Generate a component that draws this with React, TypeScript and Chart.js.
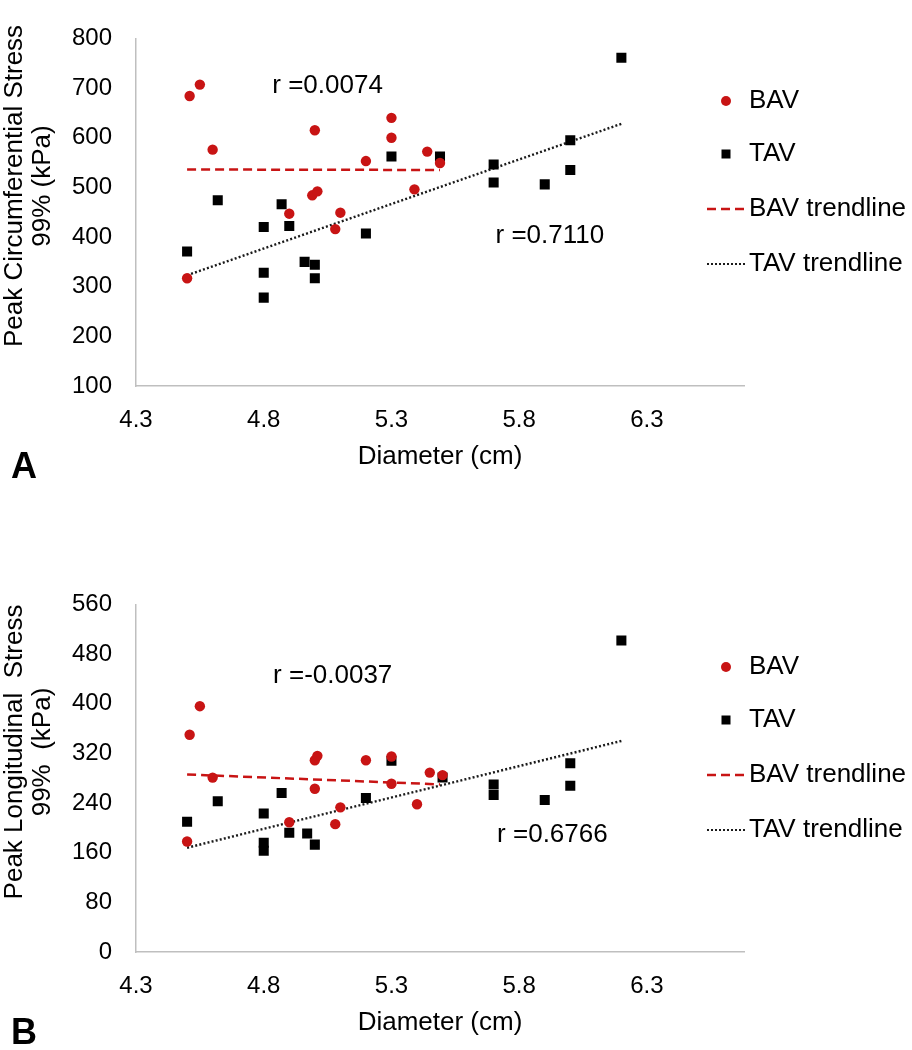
import React, { useEffect, useRef } from 'react';
import { Chart, registerables } from 'chart.js';

Chart.register(...registerables);

const FONT = "'Liberation Sans', Arial, Helvetica, sans-serif";
const RED = '#C81414';
const DOT = '#1a1a1a';
const AXIS_GRAY = '#BFBFBF';

// Shared x axis
const xTickValues = [4.3, 4.8, 5.3, 5.8, 6.3];
const xMin = 4.3;
const xMax = 6.68;

// ---------- Panel A : circumferential stress ----------
const yTicksA = [100, 200, 300, 400, 500, 600, 700, 800];
const bavDiameterA = [4.5, 4.51, 4.55, 4.6, 4.9, 4.99, 5.0, 5.01, 5.08, 5.1, 5.2, 5.3, 5.3, 5.39, 5.44, 5.49];
const bavCircStress = [317, 684, 707, 576, 447, 484, 615, 492, 416, 449, 553, 640, 600, 496, 572, 549];
const tavDiameterA = [4.5, 4.62, 4.8, 4.8, 4.8, 4.87, 4.9, 4.96, 5.0, 5.0, 5.2, 5.3, 5.49, 5.7, 5.7, 5.9, 6.0, 6.0, 6.2];
const tavCircStress = [371, 474, 420, 328, 278, 466, 422, 350, 344, 317, 407, 562, 562, 546, 510, 506, 595, 535, 761];
const bavTrendXA = [4.5, 5.49];
const bavTrendYA = [536, 535];
const tavTrendXA = [4.5, 6.2];
const tavTrendYA = [323, 628];
const noteTextA = ['r =0.0074', 'r =0.7110'];
const noteXA = [5.05, 5.92];
const noteYA = [705, 402];

// ---------- Panel B : longitudinal stress ----------
const yTicksB = [0, 80, 160, 240, 320, 400, 480, 560];
const bavDiameterB = [4.5, 4.51, 4.55, 4.6, 4.9, 5.0, 5.0, 5.01, 5.08, 5.1, 5.2, 5.3, 5.3, 5.4, 5.45, 5.5];
const bavLongStress = [178, 350, 396, 281, 209, 263, 309, 316, 206, 233, 309, 315, 271, 238, 289, 285];
const tavDiameterB = [4.5, 4.62, 4.8, 4.8, 4.8, 4.87, 4.9, 4.97, 5.0, 5.2, 5.3, 5.5, 5.7, 5.7, 5.9, 6.0, 6.0, 6.2];
const tavLongStress = [210, 243, 223, 176, 163, 256, 192, 191, 173, 248, 308, 281, 270, 253, 245, 304, 268, 502];
const bavTrendXB = [4.5, 5.49];
const bavTrendYB = [286, 270];
const tavTrendXB = [4.5, 6.2];
const tavTrendYB = [168, 340];
const noteTextB = ['r =-0.0037', 'r =0.6766'];
const noteXB = [5.07, 5.93];
const noteYB = [445, 188];

const legendLabels = ['BAV', 'TAV', 'BAV trendline', 'TAV trendline'];

type PanelCfg = {
  letter: string;
  yTitle: string[];
  yTicks: number[];
  bavX: number[];
  bavY: number[];
  tavX: number[];
  tavY: number[];
  bavTX: number[];
  bavTY: number[];
  tavTX: number[];
  tavTY: number[];
  noteText: string[];
  noteX: number[];
  noteY: number[];
};

const panelA: PanelCfg = {
  letter: 'A',
  yTitle: ['Peak Circumferential Stress', '99% (kPa)'],
  yTicks: yTicksA,
  bavX: bavDiameterA, bavY: bavCircStress,
  tavX: tavDiameterA, tavY: tavCircStress,
  bavTX: bavTrendXA, bavTY: bavTrendYA,
  tavTX: tavTrendXA, tavTY: tavTrendYA,
  noteText: noteTextA, noteX: noteXA, noteY: noteYA,
};

const panelB: PanelCfg = {
  letter: 'B',
  yTitle: ['Peak Longitudinal  Stress', '99%  (kPa)'],
  yTicks: yTicksB,
  bavX: bavDiameterB, bavY: bavLongStress,
  tavX: tavDiameterB, tavY: tavLongStress,
  bavTX: bavTrendXB, bavTY: bavTrendYB,
  tavTX: tavTrendXB, tavTY: tavTrendYB,
  noteText: noteTextB, noteX: noteXB, noteY: noteYB,
};

const zip = (xs: number[], ys: number[]) => xs.map((x, i) => ({ x, y: ys[i] }));

const CANVAS_W = 912;
const CANVAS_H = 480;

function makeOverlay(cfg: PanelCfg) {
  return {
    id: 'panelOverlay',
    afterDraw(chart: any) {
      const { ctx } = chart;
      const xs = chart.scales.x;
      const ys = chart.scales.y;
      ctx.save();
      // y axis title (two lines, rotated)
      ctx.fillStyle = '#000';
      ctx.font = `26px ${FONT}`;
      ctx.textAlign = 'center';
      ctx.textBaseline = 'middle';
      cfg.yTitle.forEach((line, i) => {
        ctx.save();
        ctx.translate(15 + i * 28, 186);
        ctx.rotate(-Math.PI / 2);
        ctx.fillText(line, 0, 0);
        ctx.restore();
      });

      // correlation notes
      cfg.noteText.forEach((t, i) => {
        ctx.fillText(t, xs.getPixelForValue(cfg.noteX[i]), ys.getPixelForValue(cfg.noteY[i]));
      });

      // legend
      const rows = [101, 154, 209, 264];
      const mx = 726;
      const lx0 = 707;
      const lx1 = 745;
      ctx.fillStyle = RED;
      ctx.beginPath();
      ctx.arc(mx, rows[0], 5, 0, Math.PI * 2);
      ctx.fill();
      ctx.fillStyle = '#000';
      ctx.fillRect(mx - 4.5, rows[1] - 4.5, 9, 9);
      ctx.lineWidth = 2.5;
      ctx.strokeStyle = RED;
      ctx.setLineDash([9, 5]);
      ctx.beginPath();
      ctx.moveTo(lx0, rows[2]);
      ctx.lineTo(lx1, rows[2]);
      ctx.stroke();
      ctx.strokeStyle = DOT;
      ctx.lineWidth = 2;
      ctx.setLineDash([2, 2]);
      ctx.beginPath();
      ctx.moveTo(lx0, rows[3]);
      ctx.lineTo(lx1, rows[3]);
      ctx.stroke();
      ctx.setLineDash([]);
      ctx.fillStyle = '#000';
      ctx.font = `26px ${FONT}`;
      ctx.textAlign = 'left';
      ctx.textBaseline = 'middle';
      legendLabels.forEach((t, i) => ctx.fillText(t, 749, rows[i]));

      // panel letter
      ctx.font = `bold 36px ${FONT}`;
      ctx.textAlign = 'center';
      ctx.textBaseline = 'alphabetic';
      ctx.fillText(cfg.letter, 24, 478);
      ctx.restore();
    },
  };
}

function Panel({ cfg, top }: { cfg: PanelCfg; top: number }) {
  const ref = useRef<HTMLCanvasElement | null>(null);
  useEffect(() => {
    if (!ref.current) return;
    const chart = new Chart(ref.current, {
      type: 'scatter',
      data: {
        datasets: [
          {
            label: 'BAV',
            data: zip(cfg.bavX, cfg.bavY),
            pointStyle: 'circle',
            pointRadius: 5.2,
            pointHoverRadius: 5.2,
            pointBackgroundColor: RED,
            pointBorderColor: RED,
            pointBorderWidth: 0,
            backgroundColor: RED,
            borderColor: RED,
            showLine: false,
          },
          {
            label: 'TAV',
            data: zip(cfg.tavX, cfg.tavY),
            pointStyle: 'rect',
            pointRadius: 7.1,
            pointHoverRadius: 7.1,
            pointBackgroundColor: '#000',
            pointBorderColor: '#000',
            pointBorderWidth: 0,
            backgroundColor: '#000',
            borderColor: '#000',
            showLine: false,
          },
          {
            label: 'BAV trendline',
            data: zip(cfg.bavTX, cfg.bavTY),
            showLine: true,
            borderColor: RED,
            borderWidth: 2.5,
            borderDash: [9, 5],
            pointRadius: 0,
            pointHoverRadius: 0,
            fill: false,
          },
          {
            label: 'TAV trendline',
            data: zip(cfg.tavTX, cfg.tavTY),
            showLine: true,
            borderColor: DOT,
            borderWidth: 2.4,
            borderDash: [2, 2.2],
            pointRadius: 0,
            pointHoverRadius: 0,
            fill: false,
          },
        ],
      },
      options: {
        responsive: false,
        animation: false,
        devicePixelRatio: 1,
        layout: { padding: { top: 16, right: CANVAS_W - 744, bottom: 0, left: 0 } },
        plugins: {
          legend: { display: false },
          tooltip: { enabled: false },
        },
        scales: {
          x: {
            type: 'linear',
            position: 'bottom',
            min: xMin,
            max: xMax,
            afterBuildTicks: (s: any) => {
              s.ticks = xTickValues.map((v) => ({ value: v }));
            },
            afterFit: (s: any) => {
              s.height = CANVAS_H - 386;
            },
            ticks: {
              autoSkip: false,
              maxRotation: 0,
              padding: 20,
              color: '#000',
              font: { family: FONT, size: 24 },
              callback: (v: any) => Number(v).toFixed(1),
            },
            grid: { display: false, drawTicks: false },
            border: { display: true, color: AXIS_GRAY, width: 1.5 },
            title: {
              display: true,
              text: 'Diameter (cm)',
              color: '#000',
              font: { family: FONT, size: 26, lineHeight: 1.15 },
              padding: { top: 0, bottom: 8 },
            },
          },
          y: {
            type: 'linear',
            position: 'left',
            min: cfg.yTicks[0],
            max: cfg.yTicks[cfg.yTicks.length - 1],
            afterBuildTicks: (s: any) => {
              s.ticks = cfg.yTicks.map((v) => ({ value: v }));
            },
            afterFit: (s: any) => {
              s.width = 136;
            },
            ticks: {
              autoSkip: false,
              padding: 24,
              color: '#000',
              font: { family: FONT, size: 24 },
            },
            grid: { display: false, drawTicks: false },
            border: { display: true, color: AXIS_GRAY, width: 1.5 },
            title: { display: false },
          },
        },
      },
      plugins: [makeOverlay(cfg)],
    } as any);
    return () => chart.destroy();
  }, [cfg]);
  return (
    <canvas
      ref={ref}
      width={CANVAS_W}
      height={CANVAS_H}
      style={{ position: 'absolute', left: 0, top, width: CANVAS_W, height: CANVAS_H }}
    />
  );
}

export default function App() {
  return (
    <div style={{ position: 'absolute', left: 0, top: 0, width: 912, height: 1050, background: '#fff' }}>
      <Panel cfg={panelA} top={0} />
      <Panel cfg={panelB} top={566} />
    </div>
  );
}
